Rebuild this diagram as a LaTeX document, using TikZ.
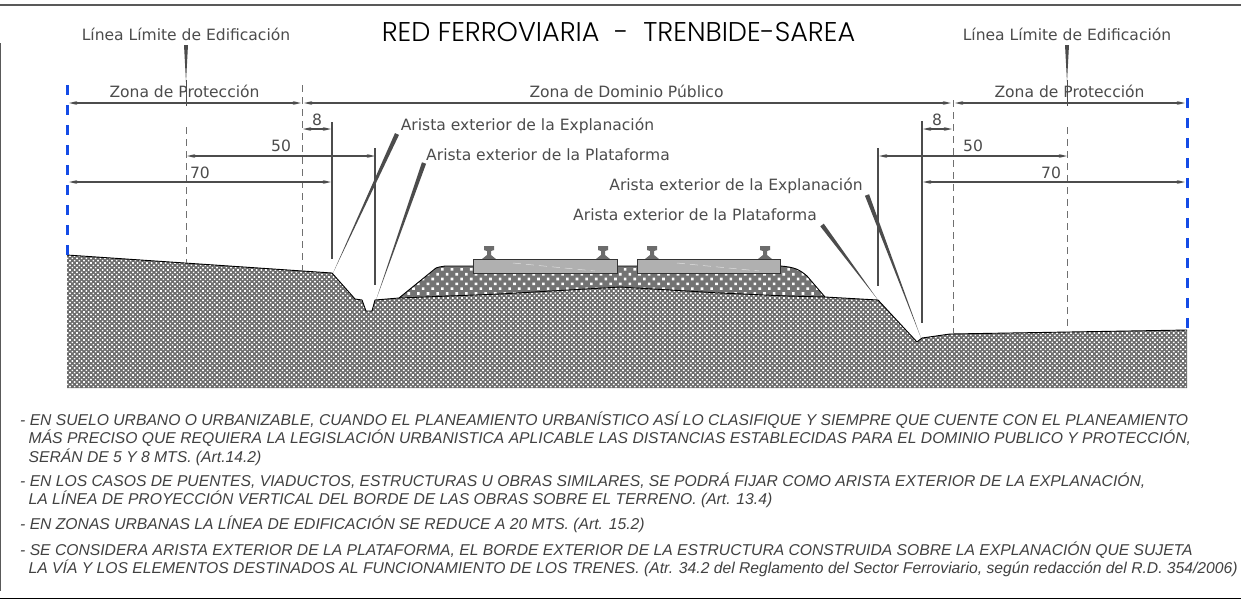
\documentclass[tikz,border=0pt]{standalone}
\usepackage{fontspec}
\setmainfont{DejaVu Sans}
\newfontfamily\notefont{Liberation Sans}
\newfontfamily\titlefont{Poppins Light}
\usetikzlibrary{arrows.meta,calc,patterns.meta}
\definecolor{ink}{gray}{0.30}
\definecolor{bluedash}{RGB}{20,75,230}
\tikzset{
  x=1pt,y=-1pt,
  lab/.style={text=ink,font=\fontsize{15.55}{16}\selectfont,inner sep=0pt,anchor=mid},
  notetxt/.style={text=ink!85!black,font=\notefont\itshape\fontsize{15.68}{16}\selectfont,inner sep=0pt,anchor=base west},
  dim/.style={draw=ink,line width=1.5pt,{Stealth[length=8pt,width=3.6pt]}-{Stealth[length=8pt,width=3.6pt]}},
  wall/.style={draw=ink,line width=2pt},
  guide/.style={draw=ink!80,line width=0.8pt,dash pattern=on 7pt off 5pt},
  limit/.style={draw=bluedash,line width=3pt,dash pattern=on 10pt off 10pt},
}
\newcommand{\wedgeline}[5]{% x1 y1 (thick end) x2 y2 (tip) halfwidth
  \coordinate (wa) at (#1,#2); \coordinate (wb) at (#3,#4);
  \fill[ink] ($(wa)!#5pt!90:(wb)$) -- ($(wa)!#5pt!-90:(wb)$) -- (wb) -- cycle;}
\newcommand{\railat}[1]{%
  \fill[gray!85!black] (#1-5,246) -- (#1+5,246) -- (#1+5,250) -- (#1+2,251) -- (#1+2,255) -- (#1+7,259) -- (#1-7,259) -- (#1-2,255) -- (#1-2,251) -- (#1-5,250) -- cycle;}
\newcommand{\groundfill}[1]{%
  \fill[black!58] #1;
  \fill[pattern={Dots[distance=3.3pt,radius=1.15pt,angle=45]},pattern color=white] #1;}
\begin{document}
\begin{tikzpicture}
\useasboundingbox (0,0) rectangle (1241,606);
\fill[white] (0,0) rectangle (1241,606);
% frame
\draw[gray!70!black,line width=1.3pt] (0,5) -- (1241,5);
\draw[gray!70!black,line width=1.3pt] (0.5,43) -- (0.5,591);
\draw[black,line width=1pt] (0,598) -- (1241,598);
% ground
\def\groundpath{(67,255) -- (332,273) -- (355,299) -- (362,300) -- (366,311) -- (372,311) -- (375,300) -- (399,298) -- (500,294) -- (620,287) -- (653,289) -- (720,293) -- (787,296) -- (825,297) -- (878,300) -- (917,342) -- (922,338) -- (950,334) -- (1187,330) -- (1187,388) -- (67,388) -- cycle}
\groundfill{\groundpath}
% ballast
\def\ballastpath{(399,298) -- (436,268) .. controls (438,267) and (440,267) .. (445,266) -- (780,266) .. controls (795,267) and (800,270) .. (807,276) -- (825,297) -- (787,296) -- (720,293) -- (653,289) -- (620,287) -- (500,294) -- cycle}
\fill[black!55] \ballastpath;
\fill[pattern={Dots[distance=6.8pt,radius=1.85pt,angle=45]},pattern color=white] \ballastpath;
\draw[black,line width=0.9pt] (67,255) -- (332,273) -- (355,299) -- (362,300) -- (366,311) -- (372,311) -- (375,300) -- (399,298) -- (500,294) -- (620,287) -- (653,289) -- (720,293) -- (787,296) -- (825,297) -- (878,300) -- (917,342) -- (922,338) -- (950,334) -- (1187,330);
\draw[black,line width=0.9pt] (399,298) -- (436,268) .. controls (438,267) and (440,267) .. (445,266) -- (780,266) .. controls (795,267) and (800,270) .. (807,276) -- (825,297);
% sleepers and rails
\foreach \r in {489,603,652,765} {\railat{\r}}
\foreach \a/\b in {473/617,637/780} {
  \fill[gray!62,draw=black!80,line width=1pt] (\a,259) rectangle (\b,273);
  \draw[white!75!gray,line width=0.5pt,dash pattern=on 8pt off 5pt] (\a+40,263) -- (\a+122,271);
}
% guides
\draw[limit] (67,85) -- (67,255);
\draw[limit] (1187,98) -- (1187,330);
\draw[guide] (302,85) -- (302,271);
\draw[guide] (953,100) -- (953,334);
\draw[guide] (186,127) -- (186,263);
\draw[guide] (1067,127) -- (1067,331);
\draw[ink,line width=0.7pt] (186,80) -- (186,106);
\draw[ink,line width=0.7pt] (1067,80) -- (1067,106);
\wedgeline{186}{45}{186}{82}{2}
\wedgeline{1067}{45}{1067}{82}{2}
% dimension walls
\draw[wall] (332,122) -- (332,259);
\draw[wall] (375,148) -- (375,285);
\draw[wall] (878,148) -- (878,286);
\draw[wall] (922,121) -- (922,323);
% pointers
\wedgeline{397}{134}{333}{273}{2.2}
\wedgeline{424}{163}{376}{300}{2.2}
\wedgeline{867}{195}{921}{338}{2.2}
\wedgeline{822}{225}{878}{300}{2.2}
% dimensions
\draw[dim] (69,103) -- (301,103);
\draw[dim] (304,103) -- (951,103);
\draw[dim] (955,103) -- (1185,103);
\draw[dim] (303,129) -- (331,129);
\draw[dim] (187,156) -- (375,156);
\draw[dim] (69,182) -- (331,182);
\draw[dim] (923,129) -- (952,129);
\draw[dim] (879,156) -- (1067,156);
\draw[dim] (923,182) -- (1185,182);
% labels
\node[lab] (t8l) at (317,123) {8};
\node[lab] (t50l) at (281,149) {50};
\node[lab] (t70l) at (200,176) {70};
\node[lab] (t8r) at (937,123) {8};
\node[lab] (t50r) at (973,149) {50};
\node[lab] (t70r) at (1051,176) {70};
\node[lab] (zp1) at (184.5,95) {Zona de Protección};
\node[lab] (zd) at (626.5,95) {Zona de Dominio Público};
\node[lab] (zp2) at (1069.5,95) {Zona de Protección};
\node[lab] (ll1) at (186,38) {Línea Límite de Edificación};
\node[lab] (ll2) at (1067,38) {Línea Límite de Edificación};
\node[lab] (ae1) at (527.5,128) {Arista exterior de la Explanación};
\node[lab] (ap1) at (548,158) {Arista exterior de la Plataforma};
\node[lab] (ae2) at (736,188) {Arista exterior de la Explanación};
\node[lab] (ap2) at (695,218) {Arista exterior de la Plataforma};
\node[inner sep=0pt,text=black,font=\titlefont\fontsize{27.1}{28}\selectfont] (title) at (618.5,32) {RED FERROVIARIA\ \ -\ \ TRENBIDE-SAREA};
% notes
\node[notetxt] (n1) at (20,425) {- EN SUELO URBANO O URBANIZABLE, CUANDO EL PLANEAMIENTO URBANÍSTICO ASÍ LO CLASIFIQUE Y SIEMPRE QUE CUENTE CON EL PLANEAMIENTO};
\node[notetxt] (n2) at (28.5,443) {MÁS PRECISO QUE REQUIERA LA LEGISLACIÓN URBANISTICA APLICABLE LAS DISTANCIAS ESTABLECIDAS PARA EL DOMINIO PUBLICO Y PROTECCIÓN,};
\node[notetxt] (n3) at (28.5,462) {SERÁN DE 5 Y 8 MTS. (Art.14.2)};
\node[notetxt] (n4) at (20,486) {- EN LOS CASOS DE PUENTES, VIADUCTOS, ESTRUCTURAS U OBRAS SIMILARES, SE PODRÁ FIJAR COMO ARISTA EXTERIOR DE LA EXPLANACIÓN,};
\node[notetxt] (n5) at (28.5,504) {LA LÍNEA DE PROYECCIÓN VERTICAL DEL BORDE DE LAS OBRAS SOBRE EL TERRENO. (Art. 13.4)};
\node[notetxt] (n6) at (20,529) {- EN ZONAS URBANAS LA LÍNEA DE EDIFICACIÓN SE REDUCE A 20 MTS. (Art. 15.2)};
\node[notetxt] (n7) at (20,555) {- SE CONSIDERA ARISTA EXTERIOR DE LA PLATAFORMA, EL BORDE EXTERIOR DE LA ESTRUCTURA CONSTRUIDA SOBRE LA EXPLANACIÓN QUE SUJETA};
\node[notetxt] (n8) at (28.5,573) {LA VÍA Y LOS ELEMENTOS DESTINADOS AL FUNCIONAMIENTO DE LOS TRENES. (Atr. 34.2 del Reglamento del Sector Ferroviario, según redacción del R.D. 354/2006)};
\end{tikzpicture}
\end{document}
